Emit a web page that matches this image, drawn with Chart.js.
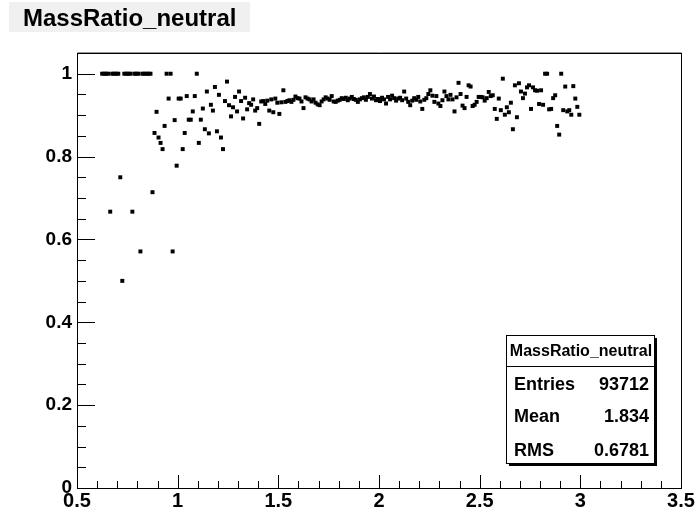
<!DOCTYPE html>
<html>
<head>
<meta charset="utf-8">
<title>MassRatio_neutral</title>
<script src="https://cdn.jsdelivr.net/npm/chart.js@4.4.0/dist/chart.umd.min.js"></script>
<style>
  html, body { margin: 0; padding: 0; background: #fff; }
  #wrap { width: 697px; height: 514px; }
</style>
</head>
<body>
<div id="wrap"><canvas id="massRatio" width="697" height="514"></canvas></div>
<script>
// profile binning: 240 bins of 0.01 from 0.6 to 3.0
const binLow = 0.6;
const binWidth = 0.01;

// bin contents, 40 bins per array (null = empty bin)
const ratio060 = [null, null, 1, 1, 1, 1, 0.667, 1, 1, 1,
  1, 0.75, 0.5, 1, 1, 1, 1, 0.667, 1, 1,
  1, 0.571, 1, 1, 1, 1, 1, 0.714, 0.857, 0.908,
  0.846, 0.833, 0.818, 0.874, 1, 0.94, 1, 0.571, 0.888, 0.778];
const ratio100 = [0.94, 0.94, 0.818, 0.857, 0.946, 0.889, 0.889, 0.909, 0.946, 1,
  0.833, 0.889, 0.916, 0.866, 0.957, 0.856, 0.925, 0.911, 0.968, 0.861,
  0.949, 0.846, 0.818, 0.934, 0.981, 0.924, 0.897, 0.919, 0.944, 0.909,
  0.957, 0.934, 0.892, 0.942, 0.914, 0.929, 0.925, 0.938, 0.911, 0.917];
const ratio140 = [0.879, 0.933, 0.934, 0.927, 0.935, 0.911, 0.938, 0.907, 0.940, 0.930,
  0.903, 0.931, 0.960, 0.932, 0.934, 0.936, 0.932, 0.937, 0.945, 0.941,
  0.940, 0.933, 0.917, 0.943, 0.940, 0.938, 0.933, 0.938, 0.930, 0.926,
  0.924, 0.933, 0.938, 0.943, 0.940, 0.937, 0.946, 0.933, 0.932, 0.935];
const ratio180 = [0.937, 0.941, 0.939, 0.942, 0.936, 0.940, 0.944, 0.939, 0.937, 0.932,
  0.938, 0.941, 0.943, 0.937, 0.944, 0.951, 0.940, 0.945, 0.936, 0.939,
  0.934, 0.942, 0.938, 0.928, 0.944, 0.938, 0.947, 0.941, 0.935, 0.940,
  0.942, 0.936, 0.957, 0.940, 0.932, 0.924, 0.935, 0.941, 0.937, 0.944];
const ratio220 = [0.933, 0.915, 0.937, 0.941, 0.951, 0.960, 0.947, 0.932, 0.946, 0.928,
  0.922, 0.936, 0.957, 0.946, 0.938, 0.949, 0.938, 0.909, 0.943, 0.978,
  0.951, 0.923, 0.917, 0.944, 0.972, 0.969, 0.922, 0.925, 0.932, 0.944,
  0.944, 0.943, 0.935, 0.941, 0.956, 0.946, 0.948, 0.915, 0.891, 0.940];
const ratio260 = [0.912, 0.988, 0.901, 0.919, 0.907, 0.930, 0.866, 0.972, 0.895, 0.977,
  0.957, 0.941, 0.952, 0.967, 0.972, 0.915, 0.967, 0.960, 0.959, 0.927,
  0.960, 0.925, 1, 1, 0.914, 0.915, 0.941, 0.948, 0.874, 0.853,
  1, 0.912, 0.969, 0.909, 0.912, 0.901, 0.970, 0.940, 0.920, 0.901];

const xTicks = [0.5, 1, 1.5, 2, 2.5, 3, 3.5];
const yTicks = [0, 0.2, 0.4, 0.6, 0.8, 1];

const histTitle = 'MassRatio_neutral';
const statsLabels = ['Entries', 'Mean', 'RMS'];
const statsValues = ['93712', '1.834', '0.6781'];

const FONT = '"Liberation Sans", Arial, Helvetica, sans-serif';

const allBins = [].concat(ratio060, ratio100, ratio140, ratio180, ratio220, ratio260);
const points = [];
allBins.forEach((v, i) => {
  if (v !== null) points.push({ x: binLow + binWidth * (i + 0.5), y: v });
});

// title pad, inner ticks, frame and stats box (ROOT look)
const rootPad = {
  id: 'rootPad',
  beforeDraw(chart) {
    const ctx = chart.ctx;
    ctx.save();
    ctx.fillStyle = '#f0f0f0';
    ctx.fillRect(9, 2, 241, 30);
    ctx.fillStyle = '#000';
    ctx.font = 'bold 24px ' + FONT;
    ctx.textBaseline = 'alphabetic';
    ctx.fillText(histTitle, 23, 26);
    ctx.restore();
  },
  afterDraw(chart) {
    const ctx = chart.ctx;
    const a = chart.chartArea;
    const xs = chart.scales.x;
    const ys = chart.scales.y;
    ctx.save();
    ctx.lineWidth = 1;
    ctx.strokeStyle = '#000';

    // y ticks, every 0.05, major every 0.2
    for (let k = 0; k <= 21; k++) {
      const py = Math.round(ys.getPixelForValue(k * 0.05)) + 0.5;
      const len = k % 4 === 0 ? 18 : 9;
      ctx.beginPath();
      ctx.moveTo(a.left, py);
      ctx.lineTo(a.left + len, py);
      ctx.stroke();
    }
    // x ticks, every 0.1, major every 0.5
    for (let k = 5; k <= 35; k++) {
      const px = Math.round(xs.getPixelForValue(k / 10)) + 0.5;
      const len = k % 5 === 0 ? 13 : 7;
      ctx.beginPath();
      ctx.moveTo(px, a.bottom);
      ctx.lineTo(px, a.bottom - len);
      ctx.stroke();
    }

    // frame
    const l = Math.round(a.left) + 0.5, r = Math.round(a.right) + 0.5;
    const t = Math.round(a.top) + 0.5, b = Math.round(a.bottom) + 0.5;
    ctx.strokeStyle = '#999';
    ctx.beginPath();
    ctx.moveTo(l, t - 1); ctx.lineTo(r, t - 1);
    ctx.stroke();
    ctx.strokeStyle = '#000';
    ctx.strokeRect(l, t, r - l, b - t);

    // stats box
    const bx = 506, by = 335, bw = 148, bh = 128;
    ctx.fillStyle = '#000';
    ctx.fillRect(bx + 3, by + 3, bw, bh);
    ctx.fillStyle = '#fff';
    ctx.fillRect(bx, by, bw, bh);
    ctx.strokeRect(bx + 0.5, by + 0.5, bw, bh);
    ctx.beginPath();
    ctx.moveTo(bx, by + 31.5);
    ctx.lineTo(bx + bw, by + 31.5);
    ctx.stroke();

    ctx.fillStyle = '#000';
    ctx.textBaseline = 'middle';
    ctx.textAlign = 'center';
    ctx.font = 'bold 16px ' + FONT;
    ctx.fillText(histTitle, bx + bw / 2 + 1, by + 17);
    ctx.font = 'bold 18px ' + FONT;
    const rowY = [385, 417, 451];
    statsLabels.forEach((lab, i) => {
      ctx.textAlign = 'left';
      ctx.fillText(lab, 514, rowY[i]);
      ctx.textAlign = 'right';
      ctx.fillText(statsValues[i], 649, rowY[i]);
    });
    ctx.restore();
  }
};

const tickText = v => String(+Number(v).toFixed(2));

new Chart(document.getElementById('massRatio'), {
  type: 'scatter',
  data: {
    datasets: [{
      label: histTitle,
      data: points,
      pointStyle: 'rect',
      pointRadius: 2.8,
      pointBorderWidth: 0,
      backgroundColor: '#000',
      borderColor: '#000'
    }]
  },
  options: {
    responsive: false,
    animation: false,
    events: [],
    layout: { padding: { top: 53, right: 16, bottom: 0, left: 0 } },
    plugins: { legend: { display: false }, tooltip: { enabled: false }, title: { display: false } },
    scales: {
      x: {
        type: 'linear',
        min: 0.5,
        max: 3.5,
        afterBuildTicks: s => { s.ticks = xTicks.map(v => ({ value: v })); },
        afterFit: s => { s.height = 26; },
        grid: { display: false, drawTicks: false },
        border: { display: false },
        ticks: {
          color: '#000',
          padding: 1,
          maxRotation: 0,
          autoSkip: false,
          callback: tickText,
          font: { family: FONT, size: 20, weight: 'bold' }
        }
      },
      y: {
        min: 0,
        max: 1.05,
        afterBuildTicks: s => { s.ticks = yTicks.map(v => ({ value: v })); },
        afterFit: s => { s.width = 77; },
        grid: { display: false, drawTicks: false },
        border: { display: false },
        ticks: {
          color: '#000',
          padding: 5,
          autoSkip: false,
          callback: tickText,
          font: { family: FONT, size: 19, weight: 'bold' }
        }
      }
    }
  },
  plugins: [rootPad]
});
</script>
</body>
</html>
